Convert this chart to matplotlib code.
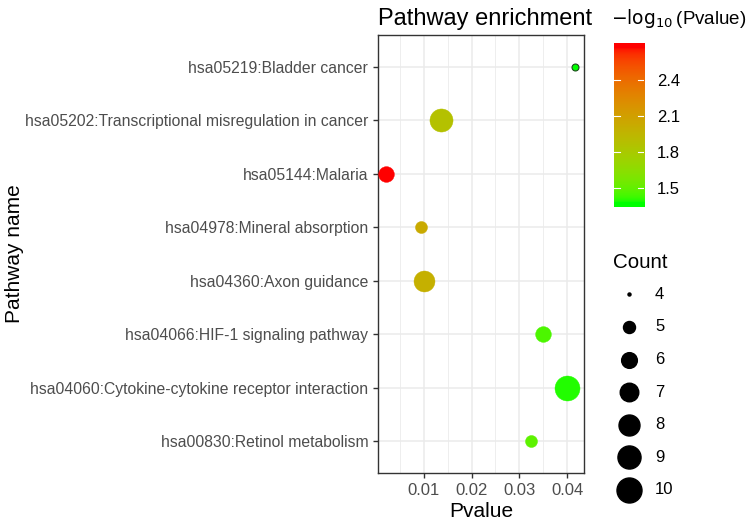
import numpy as np
import matplotlib
matplotlib.use("Agg")
import matplotlib.pyplot as plt
from matplotlib.colors import ListedColormap, Normalize

plt.rcParams['font.family'] = ['Liberation Sans', 'DejaVu Sans']

# ---- data ----
pathways = [
    "hsa00830:Retinol metabolism",
    "hsa04060:Cytokine-cytokine receptor interaction",
    "hsa04066:HIF-1 signaling pathway",
    "hsa04360:Axon guidance",
    "hsa04978:Mineral absorption",
    "hsa05144:Malaria",
    "hsa05202:Transcriptional misregulation in cancer",
    "hsa05219:Bladder cancer",
]
pvalues = [0.0324, 0.0400, 0.0350, 0.0101, 0.0093, 0.00213, 0.0136, 0.0416]
counts = [5, 10, 6, 8, 5, 6, 9, 4]
x_ticks = [0.01, 0.02, 0.03, 0.04]
cbar_ticks = [1.5, 1.8, 2.1, 2.4]
legend_counts = [4, 5, 6, 7, 8, 9, 10]

# ---- colour: Lab interpolation green -> red (like ggplot) ----
M = np.array([[0.4124, 0.3576, 0.1805], [0.2126, 0.7152, 0.0722], [0.0193, 0.1192, 0.9505]])
WP = np.array([0.95047, 1.0, 1.08883])

def srgb_to_lab(rgb):
    rgb = np.asarray(rgb, float)
    lin = np.where(rgb <= 0.04045, rgb / 12.92, ((rgb + 0.055) / 1.055) ** 2.4)
    t = (M @ lin) / WP
    f = np.where(t > (6/29) ** 3, np.cbrt(t), t / (3 * (6/29) ** 2) + 4/29)
    return np.array([116 * f[1] - 16, 500 * (f[0] - f[1]), 200 * (f[1] - f[2])])

def lab_to_srgb(lab):
    L, a, b = lab
    fy = (L + 16) / 116
    f = np.array([fy + a / 500, fy, fy - b / 200])
    t = np.where(f > 6/29, f ** 3, 3 * (6/29) ** 2 * (f - 4/29))
    lin = np.clip(np.linalg.inv(M) @ (t * WP), 0, 1)
    rgb = np.where(lin <= 0.0031308, 12.92 * lin, 1.055 * lin ** (1/2.4) - 0.055)
    return np.clip(rgb, 0, 1)

lab_lo = srgb_to_lab([0, 1, 0])
lab_hi = srgb_to_lab([1, 0, 0])
cols = [lab_to_srgb(lab_lo + (lab_hi - lab_lo) * t) for t in np.linspace(0, 1, 256)]
cmap = ListedColormap(cols)

neglog = -np.log10(np.array(pvalues))
norm = Normalize(vmin=neglog.min(), vmax=neglog.max())

def diam(c):
    return 2.2 + (18.0 - 2.2) * np.sqrt((c - 4) / 6.0)

W, H = 750, 527
fig = plt.figure(figsize=(W / 100, H / 100), dpi=100)

# main panel
ax = fig.add_axes([378 / W, (H - 473) / H, 206 / W, 438 / H])
ax.set_facecolor('white')
ys = np.arange(1, len(pathways) + 1)
for y, p, c, v in zip(ys, pvalues, counts, neglog):
    col = cmap(norm(v))
    if c <= 4:
        ax.plot(p, y, 'o', ms=5.0, mfc=col, mec='#1e4a1e', mew=0.8, zorder=3)
    else:
        ax.plot(p, y, 'o', ms=diam(c), mfc=col, mec=col, mew=0.3, zorder=3)

ax.set_xlim(0.00036, 0.04356)
ax.set_ylim(0.4, len(pathways) + 0.6)
ax.set_xticks(x_ticks)
ax.set_xticklabels([f"{t:.2f}" for t in x_ticks])
ax.set_xticks([0.005, 0.015, 0.025, 0.035], minor=True)
ax.set_yticks(ys)
ax.set_yticklabels(pathways)
ax.grid(True, which='major', color='#EBEBEB', lw=1.1, zorder=0)
ax.grid(True, which='minor', axis='x', color='#EBEBEB', lw=0.6, zorder=0)
ax.set_axisbelow(True)
ax.tick_params(axis='both', which='major', colors='#333333', labelcolor='#4D4D4D',
               length=3.5, width=1)
ax.tick_params(axis='y', which='major', labelsize=11.3)
ax.tick_params(axis='x', which='major', labelsize=12)
ax.tick_params(axis='both', which='minor', length=0)
for s in ax.spines.values():
    s.set_color('#333333')
    s.set_linewidth(1.0)
ax.set_xlabel('Pvalue', fontsize=15, labelpad=3)
ax.set_ylabel('Pathway name', fontsize=15)
ax.yaxis.set_label_coords((24 - 378) / 206, 0.5)
ax.set_title('Pathway enrichment', fontsize=17, loc='left', pad=7, x=0.0)

# colour bar
lo_ext, hi_ext = 1.347, 2.705
cax = fig.add_axes([614 / W, (H - 206.7) / H, 30.3 / W, 163.4 / H])
grad = np.linspace(lo_ext, hi_ext, 300).reshape(-1, 1)
cax.imshow(np.clip(grad, norm.vmin, norm.vmax), cmap=cmap, norm=norm, aspect='auto',
           origin='lower', extent=[0, 1, lo_ext, hi_ext])
cax.set_xlim(0, 1)
cax.set_ylim(lo_ext, hi_ext)
for t in cbar_ticks:
    cax.plot([0, 0.2], [t, t], color='white', lw=0.8)
    cax.plot([0.8, 1], [t, t], color='white', lw=0.8)
cax.set_xticks([])
cax.set_yticks(cbar_ticks)
cax.set_yticklabels([f"{t:.1f}" for t in cbar_ticks])
cax.yaxis.tick_right()
cax.tick_params(axis='y', length=0, labelsize=12, pad=9, labelcolor='black')
for s in cax.spines.values():
    s.set_visible(False)
fig.text(611 / W, (H - 19) / H, r'$-\log_{10}$(Pvalue)', fontsize=13.5, va='center', ha='left')

# size legend
lax = fig.add_axes([605 / W, (H - 505) / H, 140 / W, 225 / H])
lax.set_xlim(0, 140)
lax.set_ylim(0, 225)
lax.axis('off')
step = 32.6
top = 505 - 294.3
for i, c in enumerate(legend_counts):
    yy = top - i * step
    lax.plot(24, yy, 'o', ms=diam(c), color='black', mec='black')
    lax.text(50, yy, str(c), fontsize=12, va='center', ha='left')
fig.text(613 / W, (H - 262) / H, 'Count', fontsize=14.8, va='center', ha='left')

fig.savefig('out.png', dpi=100)
